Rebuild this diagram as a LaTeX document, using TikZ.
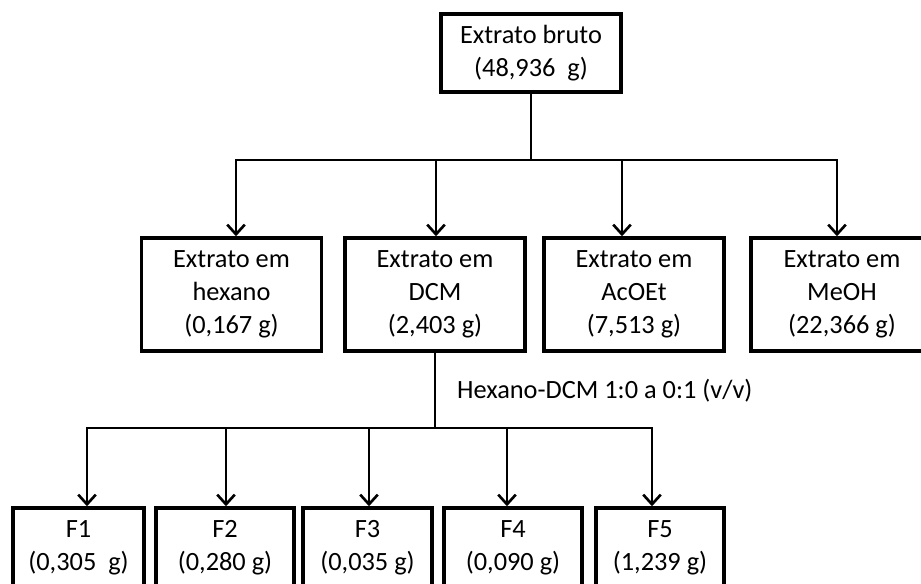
\documentclass[tikz,border=0pt]{standalone}
\usepackage{fontspec}
\setmainfont{Carlito}
\usetikzlibrary{arrows.meta}

\tikzset{
    caixa/.style={draw, line width=2pt, inner sep=0pt, align=center,
        minimum width=3.6cm, minimum height=2.26cm,
        font=\fontsize{15}{18.8}\selectfont},
    fracao/.style={caixa, minimum height=1.58cm},
    liga/.style={line width=1.5pt},
    seta/.style={liga, -{Straight Barb[length=5.5pt, width=10pt]}},
    seta2/.style={liga, {Straight Barb[length=5.5pt, width=10pt]}-{Straight Barb[length=5.5pt, width=10pt]}}
}

\begin{document}
\begin{tikzpicture}[x=0.02cm, y=-0.02cm]
    \clip (0,0) rectangle (921,583);
    %Extrato bruto
    \node[caixa, minimum height=1.56cm] (bruto) at (531,53) {Extrato bruto\\(48,936\ \ g)};
    %Extratos
    \node[caixa] (hex) at (231.5,294.5) {Extrato em\\hexano\\(0,167 g)};
    \node[caixa] (dcm) at (435,294.5) {Extrato em\\DCM\\(2,403 g)};
    \node[caixa] (acoet) at (634,294.5) {Extrato em\\AcOEt\\(7,513 g)};
    \node[caixa, minimum width=3.64cm] (meoh) at (842,294.5) {Extrato em\\MeOH\\(22,366 g)};
    %Fracoes
    \node[fracao, minimum width=2.62cm] (F1) at (78.5,547.5) {F1\\(0,305\ \ g)};
    \node[fracao, minimum width=2.76cm] (F2) at (225,547.5) {F2\\(0,280 g)};
    \node[fracao, minimum width=2.58cm] (F3) at (367.5,547.5) {F3\\(0,035 g)};
    \node[fracao, minimum width=2.76cm] (F4) at (513,547.5) {F4\\(0,090 g)};
    \node[fracao, minimum width=2.56cm] (F5) at (660,547.5) {F5\\(1,239 g)};

    %Ligacoes
    \coordinate (nivel1) at (0,160);
    \coordinate (nivel2) at (0,428);
    \foreach \n/\d in {hex/4.5, dcm/1, acoet/-12, meoh/-5, F1/8.5, F2/1, F3/1.5, F4/-6, F5/-8}
        \coordinate (ponta-\n) at ([shift={(\d,0)}]\n.north);

    \draw[liga] (bruto.south) -- (bruto.south |- nivel1);
    \draw[seta2] (ponta-hex) -- (ponta-hex |- nivel1) -- (ponta-meoh |- nivel1) -- (ponta-meoh);
    \foreach \n in {dcm, acoet}
        \draw[seta] (ponta-\n |- nivel1) -- (ponta-\n);

    \draw[liga] (dcm.south) -- (dcm.south |- nivel2)
        node[midway, anchor=west, xshift=0.3cm, font=\fontsize{15}{18.8}\selectfont] (solvente) {Hexano-DCM 1:0 a 0:1 (v/v)};
    \draw[seta2] (ponta-F1) -- (ponta-F1 |- nivel2) -- (ponta-F5 |- nivel2) -- (ponta-F5);
    \foreach \n in {F2, F3, F4}
        \draw[seta] (ponta-\n |- nivel2) -- (ponta-\n);
\end{tikzpicture}
\end{document}
